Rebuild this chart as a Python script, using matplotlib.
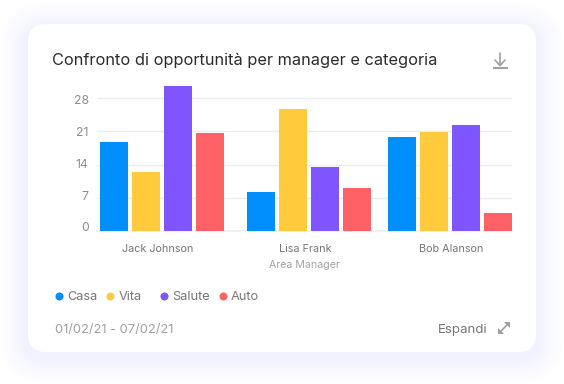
import matplotlib
matplotlib.use('Agg')
import matplotlib.pyplot as plt
from matplotlib.patches import FancyBboxPatch
import numpy as np

managers = ['Jack Johnson', 'Lisa Frank', 'Bob Alanson']
categories = ['Casa', 'Vita', 'Salute', 'Auto']
casa = [18.7, 8.2, 19.8]
vita = [12.4, 25.7, 20.8]
salute = [30.5, 13.5, 22.3]
auto = [20.6, 9.05, 3.8]
yticks = [0, 7, 14, 21, 28]
colors = ['#008ffb', '#ffcb3d', '#7f55ff', '#ff6266']

plt.rcParams['font.family'] = ['Inter', 'DejaVu Sans']

W, H = 564, 384
fig = plt.figure(figsize=(W / 100, H / 100), dpi=100, facecolor='white')

# page layer in pixel coordinates: shadow, card, icons
bg = fig.add_axes([0, 0, 1, 1])
bg.set_xlim(0, W)
bg.set_ylim(H, 0)
bg.axis('off')
for grow in np.arange(28, 0, -2):
    bg.add_patch(FancyBboxPatch((28 - grow, 30 - grow), 508 + 2 * grow, 326 + 2 * grow,
                                boxstyle='round,pad=0,rounding_size=%d' % (18 + grow),
                                fc='#3f66ff', ec='none', alpha=0.0036))
bg.add_patch(FancyBboxPatch((28, 24), 508, 328, boxstyle='round,pad=0,rounding_size=18',
                            fc='white', ec='none'))

bg.text(52, 60, 'Confronto di opportunità per manager e categoria', fontsize=11.75,
        color='#2b2b2f', va='center', ha='left')

# download icon
bg.plot([500, 500], [53, 65], color='#a0a0a4', lw=1.2, solid_capstyle='round')
bg.plot([495, 500, 505], [60, 65.5, 60], color='#a0a0a4', lw=1.2, solid_capstyle='round')
bg.plot([493.5, 506.5], [67.5, 67.5], color='#a0a0a4', lw=1.4)

# chart
left, right, top, bottom = 97, 512, 79, 231
ax = fig.add_axes([left / W, 1 - bottom / H, (right - left) / W, (bottom - top) / H])
ax.patch.set_alpha(0)
ax.set_xlim(left, right)
ax.set_ylim(0, (bottom - top) / 4.75)
group_x = np.array([162, 309, 450])
bar_w = 27.5
step = 32
for i, vals in enumerate([casa, vita, salute, auto]):
    ax.bar(group_x + (i - 1.5) * step, vals, width=bar_w, color=colors[i], zorder=3)
ax.set_yticks(yticks)
ax.set_yticklabels([])
ax.yaxis.grid(True, color='#ececee', lw=1)
ax.set_axisbelow(True)
ax.set_xticks([158, 305, 451])
ax.set_xticklabels(managers, fontsize=7.8, color='#77777b')
ax.tick_params(axis='x', length=0, pad=9.4)
ax.tick_params(axis='y', length=0)
for s in ['top', 'right', 'left']:
    ax.spines[s].set_visible(False)
ax.spines['bottom'].set_color('#f0f0f2')
ax.spines['bottom'].set_linewidth(1.2)

# y labels drift away from their gridlines in the original
label_shift = [2.3, 0.4, -0.5, -1.2, -1.9]
for t, dy in zip(yticks, label_shift):
    ax.annotate(str(t), (left, t), xytext=(-6, dy), xycoords=('data', 'data'),
                textcoords='offset points', ha='right', va='center',
                fontsize=8.8, color='#8f8f93')

bg.text(304, 265.5, 'Area Manager', fontsize=7.6, color='#a4a4a8', ha='center', va='center')

# legend
dot_x = [59, 110, 163.5, 223]
text_x = [67.5, 118.5, 172, 231]
for x, tx, c, name in zip(dot_x, text_x, colors, categories):
    bg.plot([x], [295.5], 'o', ms=5.8, color=c, mec='none')
    bg.text(tx, 297, name, fontsize=9.2, color='#77777b', va='center', ha='left')

bg.text(55, 330, '01/02/21 - 07/02/21', fontsize=9.3, color='#a0a0a4', va='center', ha='left')
bg.text(438, 330, 'Espandi', fontsize=9.6, color='#77777b', va='center', ha='left')

# expand icon
bg.plot([500, 508], [332, 324], color='#a0a0a4', lw=1.2)
bg.fill([504, 510, 510], [322, 322, 328], color='#a0a0a4', lw=0)
bg.fill([498, 498, 504], [327.5, 333.5, 333.5], color='#a0a0a4', lw=0)

fig.savefig('out.png', dpi=100)
